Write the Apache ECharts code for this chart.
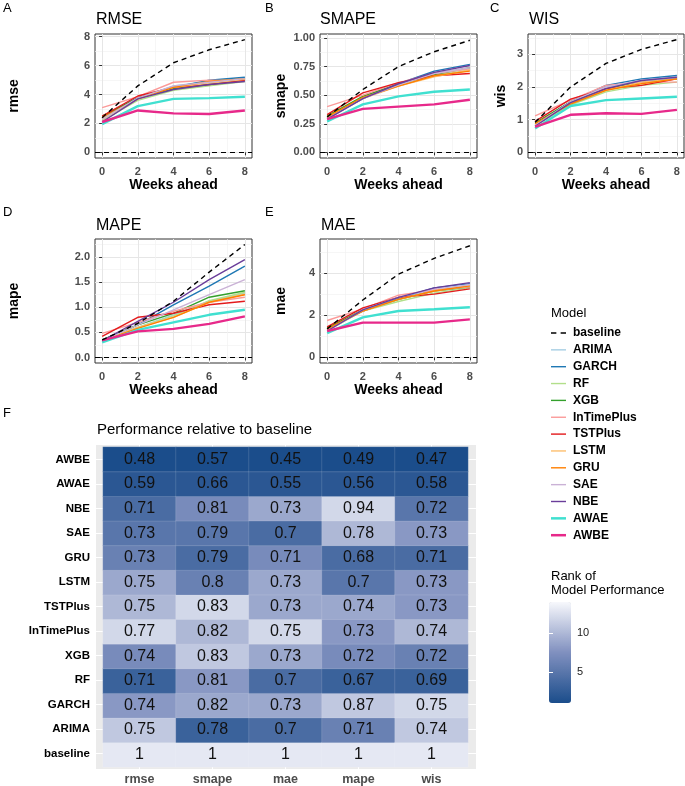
<!DOCTYPE html>
<html><head><meta charset="utf-8">
<script src="https://cdn.jsdelivr.net/npm/echarts@6/dist/echarts.min.js"></script>
<style>html,body{margin:0;padding:0;background:#fff}#c{width:685px;height:786px}</style>
</head><body><div id="c"></div>
<script>
// ---------------- DATA ----------------
const weeks = [0, 2, 4, 6, 8];
const models = ['baseline','ARIMA','GARCH','RF','XGB','InTimePlus','TSTPlus','LSTM','GRU','SAE','NBE','AWAE','AWBE'];
const modelColors = ['#000000','#A6CEE3','#1F78B4','#B2DF8A','#33A02C','#FB9A99','#E31A1C','#FDBF6F','#FF7F00','#CAB2D6','#6A3D9A','#40E0D0','#E7298A'];

// rows follow `models`; columns follow `weeks`
const rmseValues = [
  [2.40, 4.60, 6.20, 7.10, 7.80],
  [2.30, 3.75, 4.60, 4.90, 5.15],
  [2.40, 3.80, 4.50, 5.00, 5.20],
  [2.20, 3.60, 4.30, 4.60, 4.90],
  [2.50, 3.75, 4.40, 4.70, 5.00],
  [3.10, 3.85, 4.85, 5.00, 4.95],
  [2.50, 3.90, 4.50, 4.70, 5.00],
  [2.30, 3.70, 4.50, 4.80, 5.05],
  [2.40, 3.70, 4.50, 4.90, 5.10],
  [2.30, 3.75, 4.60, 4.85, 5.10],
  [2.10, 3.70, 4.35, 4.70, 4.90],
  [1.95, 3.20, 3.70, 3.75, 3.85],
  [2.10, 2.90, 2.70, 2.65, 2.90]
];
const smapeValues = [
  [0.31, 0.55, 0.75, 0.88, 0.98],
  [0.31, 0.48, 0.60, 0.69, 0.74],
  [0.30, 0.47, 0.60, 0.71, 0.77],
  [0.30, 0.49, 0.59, 0.67, 0.72],
  [0.32, 0.49, 0.60, 0.68, 0.74],
  [0.40, 0.50, 0.61, 0.69, 0.73],
  [0.33, 0.52, 0.61, 0.67, 0.69],
  [0.30, 0.47, 0.58, 0.66, 0.72],
  [0.31, 0.48, 0.58, 0.67, 0.71],
  [0.29, 0.47, 0.59, 0.69, 0.74],
  [0.29, 0.47, 0.60, 0.70, 0.76],
  [0.27, 0.42, 0.49, 0.53, 0.55],
  [0.29, 0.38, 0.40, 0.42, 0.46]
];
const wisValues = [
  [0.92, 2.00, 2.72, 3.15, 3.45],
  [0.85, 1.55, 2.00, 2.20, 2.30],
  [0.88, 1.55, 2.05, 2.25, 2.35],
  [0.82, 1.45, 1.85, 2.05, 2.15],
  [0.90, 1.55, 1.95, 2.15, 2.25],
  [1.12, 1.60, 2.05, 2.15, 2.15],
  [0.95, 1.63, 1.95, 2.05, 2.25],
  [0.85, 1.50, 1.90, 2.15, 2.25],
  [0.88, 1.48, 1.90, 2.10, 2.25],
  [0.82, 1.55, 2.00, 2.20, 2.30],
  [0.80, 1.52, 1.95, 2.20, 2.30],
  [0.73, 1.42, 1.60, 1.65, 1.70],
  [0.78, 1.15, 1.20, 1.18, 1.30]
];
const mapeValues = [
  [0.35, 0.68, 1.12, 1.70, 2.25],
  [0.35, 0.60, 0.85, 1.12, 1.28],
  [0.34, 0.65, 1.05, 1.42, 1.82],
  [0.33, 0.60, 0.83, 1.13, 1.30],
  [0.35, 0.65, 0.88, 1.20, 1.33],
  [0.48, 0.70, 0.92, 1.10, 1.20],
  [0.42, 0.80, 0.88, 1.05, 1.12],
  [0.34, 0.60, 0.80, 1.10, 1.26],
  [0.33, 0.58, 0.80, 1.10, 1.25],
  [0.33, 0.65, 0.95, 1.25, 1.55],
  [0.33, 0.72, 1.10, 1.55, 1.95],
  [0.30, 0.55, 0.70, 0.85, 0.95],
  [0.34, 0.52, 0.57, 0.67, 0.82]
];
const maeValues = [
  [1.35, 2.72, 3.95, 4.70, 5.30],
  [1.30, 2.20, 2.75, 3.20, 3.40],
  [1.35, 2.20, 2.80, 3.30, 3.50],
  [1.25, 2.20, 2.65, 3.05, 3.30],
  [1.40, 2.25, 2.75, 3.15, 3.35],
  [1.75, 2.30, 2.95, 3.20, 3.35],
  [1.45, 2.35, 2.85, 3.00, 3.25],
  [1.30, 2.20, 2.75, 3.15, 3.40],
  [1.35, 2.20, 2.75, 3.15, 3.40],
  [1.25, 2.25, 2.85, 3.25, 3.45],
  [1.25, 2.25, 2.85, 3.30, 3.55],
  [1.15, 1.90, 2.20, 2.28, 2.38],
  [1.25, 1.65, 1.65, 1.65, 1.80]
];

// tick values / labels
const weekTicks = [0, 2, 4, 6, 8];
const weekMinor = [1, 3, 5, 7];
const rmseTicks = [0, 2, 4, 6, 8];         const rmseTickLabels = ['0','2','4','6','8'];
const smapeTicks = [0, 0.25, 0.5, 0.75, 1];  const smapeTickLabels = ['0.00','0.25','0.50','0.75','1.00'];
const wisTicks = [0, 1, 2, 3];             const wisTickLabels = ['0','1','2','3'];
const mapeTicks = [0, 0.5, 1, 1.5, 2];     const mapeTickLabels = ['0.0','0.5','1.0','1.5','2.0'];
const maeTicks = [0, 2, 4];                const maeTickLabels = ['0','2','4'];
const rmseMinor = [1, 3, 5, 7];
const smapeMinor = [0.125, 0.375, 0.625, 0.875];
const wisMinor = [0.5, 1.5, 2.5, 3.5];
const mapeMinor = [0.25, 0.75, 1.25, 1.75, 2.25];
const maeMinor = [1, 3, 5];

// heatmap (rows bottom -> top)
const heatModels = ['baseline','ARIMA','GARCH','RF','XGB','InTimePlus','TSTPlus','LSTM','GRU','SAE','NBE','AWAE','AWBE'];
const heatMetrics = ['rmse','smape','mae','mape','wis'];
const relRmse  = [1, 0.75, 0.74, 0.71, 0.74, 0.77, 0.75, 0.75, 0.73, 0.73, 0.71, 0.59, 0.48];
const relSmape = [1, 0.78, 0.82, 0.81, 0.83, 0.82, 0.83, 0.8, 0.79, 0.79, 0.81, 0.66, 0.57];
const relMae   = [1, 0.7, 0.73, 0.7, 0.73, 0.75, 0.73, 0.73, 0.71, 0.7, 0.73, 0.55, 0.45];
const relMape  = [1, 0.71, 0.87, 0.67, 0.72, 0.73, 0.74, 0.7, 0.68, 0.78, 0.94, 0.56, 0.49];
const relWis   = [1, 0.74, 0.75, 0.69, 0.72, 0.74, 0.73, 0.73, 0.71, 0.73, 0.72, 0.58, 0.47];
const rankRmse  = [13, 11, 8, 3, 7, 12, 10, 9, 6, 5, 4, 2, 1];
const rankSmape = [13, 3, 9, 8, 11, 10, 12, 6, 4, 5, 7, 2, 1];
const rankMae   = [13, 4, 9, 4, 9, 12, 9, 9, 7, 4, 9, 2, 1];
const rankMape  = [13, 6, 11, 3, 7, 8, 9, 5, 4, 10, 12, 2, 1];
const rankWis   = [13, 11, 12, 3, 6, 10, 8, 8, 4, 8, 5, 2, 1];
const rankScaleTicks = [5, 10];

// ---------------- BUILD ----------------
const FONT = 'Liberation Sans, Arial, Helvetica, sans-serif';
const panels = [
  {letter:'A', title:'RMSE',  yName:'rmse',  vals:rmseValues,  ticks:rmseTicks,  labels:rmseTickLabels,  minor:rmseMinor,  min:-0.39, max:8.19, left:95,  top:34,  width:157, height:124, yGap:73.6},
  {letter:'B', title:'SMAPE', yName:'smape', vals:smapeValues, ticks:smapeTicks, labels:smapeTickLabels, minor:smapeMinor, min:-0.049, max:1.035, left:320, top:34, width:157, height:124, yGap:31.6},
  {letter:'C', title:'WIS',   yName:'wis',   vals:wisValues,   ticks:wisTicks,   labels:wisTickLabels,   minor:wisMinor,   min:-0.17, max:3.62, left:528, top:34,  width:156, height:124, yGap:19.6},
  {letter:'D', title:'MAPE',  yName:'mape',  vals:mapeValues,  ticks:mapeTicks,  labels:mapeTickLabels,  minor:mapeMinor,  min:-0.11, max:2.36, left:95,  top:239, width:157, height:124, yGap:73.6},
  {letter:'E', title:'MAE',   yName:'mae',   vals:maeValues,   ticks:maeTicks,   labels:maeTickLabels,   minor:maeMinor,   min:-0.27, max:5.62, left:320, top:239, width:157, height:124, yGap:31.6}
];
const letterPos = [[3,2],[265,2],[490,2],[3,206],[265,206]];
const titlePos = [[96,12],[320,12],[529,12],[96,218],[321,218]];

const grids = [], xAxes = [], yAxes = [], series = [], titles = [];
const majorLine = {show:true, lineStyle:{color:'#e6e6e6', width:1}};
const minorLine = {show:true, lineStyle:{color:'#f2f2f2', width:0.7}};
function labelFor(ticks, labels){
  return v => { for (let k=0;k<ticks.length;k++) if (Math.abs(ticks[k]-v)<1e-6) return labels[k]; return ''; };
}
const txt = (text, left, top, size, weight, extra) => Object.assign({text, left, top, padding:0, itemGap:0,
  textStyle:Object.assign({fontSize:size, fontWeight:weight||'normal', color:'#000', fontFamily:FONT}, extra||{})});

panels.forEach((p, i) => {
  grids.push({left:p.left, top:p.top, width:p.width, height:p.height, show:true, borderColor:'#333333', borderWidth:1, backgroundColor:'#ffffff'});
  xAxes.push({type:'value', gridIndex:i, min:-0.4, max:8.4, position:'bottom',
    name:'Weeks ahead', nameLocation:'middle', nameGap:20,
    nameTextStyle:{fontWeight:'bold', fontSize:14, color:'#000', fontFamily:FONT},
    axisLine:{show:false},
    axisTick:{show:true, length:3, customValues:weekTicks, lineStyle:{color:'#333'}},
    axisLabel:{customValues:weekTicks, margin:8, fontSize:11, fontWeight:'bold', color:'#4d4d4d', fontFamily:FONT},
    splitLine:majorLine});
  xAxes.push({type:'value', gridIndex:i, min:-0.4, max:8.4, position:'top',
    axisLine:{show:false}, axisTick:{show:false, customValues:weekMinor}, axisLabel:{show:false, customValues:weekMinor}, splitLine:minorLine});
  yAxes.push({type:'value', gridIndex:i, min:p.min, max:p.max, position:'left',
    name:p.yName, nameLocation:'middle', nameGap:p.yGap, nameRotate:90,
    nameTextStyle:{fontWeight:'bold', fontSize:14, color:'#000', fontFamily:FONT},
    axisLine:{show:false},
    axisTick:{show:true, length:3, customValues:p.ticks, lineStyle:{color:'#333'}},
    axisLabel:{customValues:p.ticks, formatter:labelFor(p.ticks, p.labels), margin:5, fontSize:11, fontWeight:'bold', color:'#4d4d4d', fontFamily:FONT},
    splitLine:majorLine});
  yAxes.push({type:'value', gridIndex:i, min:p.min, max:p.max, position:'right',
    axisLine:{show:false}, axisTick:{show:false, customValues:p.minor}, axisLabel:{show:false, customValues:p.minor}, splitLine:minorLine});
  titles.push(txt(p.letter, letterPos[i][0], letterPos[i][1], 13));
  titles.push(txt(p.title, titlePos[i][0], titlePos[i][1], 16));
  models.forEach((m, mi) => {
    const isBase = m === 'baseline';
    const thick = (m === 'AWAE' || m === 'AWBE');
    const s = {type:'line', name:m, xAxisIndex:2*i, yAxisIndex:2*i,
      data: weeks.map((w,k)=>[w, p.vals[mi][k]]),
      symbol:'none', silent:true, animation:false,
      z: isBase ? 5 : (thick ? 4 : 3),
      itemStyle:{color:modelColors[mi]},
      lineStyle:{color:modelColors[mi], width: thick ? 2.4 : 1.4, type: isBase ? [5,4] : 'solid'}};
    if (isBase) {
      s.markLine = {silent:true, symbol:'none', label:{show:false}, animation:false,
        lineStyle:{color:'#000', type:[5,4], width:1.2}, data:[{yAxis:0}]};
    }
    series.push(s);
  });
});

// heatmap: background grid (5), tiles grid (6), colorbar grid (7)
const BG = 5, HM = 6, CB = 7;
grids.push({left:96, top:445, width:380, height:325, show:true, backgroundColor:'#ebebeb', borderWidth:0});
grids.push({left:103, top:447, width:365, height:320, show:false});
grids.push({left:549, top:602, width:22, height:101, show:false});

const colIdx = heatMetrics.map((_, j) => j);
const rowIdx = heatModels.map((_, r) => r);
xAxes.push({type:'value', gridIndex:BG, min:-0.596, max:4.61, position:'bottom',
  axisLine:{show:false},
  axisTick:{show:true, length:3, customValues:colIdx, lineStyle:{color:'#333'}},
  axisLabel:{customValues:colIdx, formatter:v=>heatMetrics[Math.round(v)], margin:4, fontSize:12.5, fontWeight:'bold', color:'#4d4d4d', fontFamily:FONT},
  splitLine:{show:true, lineStyle:{color:'#ffffff', width:1}}});
yAxes.push({type:'value', gridIndex:BG, min:-0.622, max:12.59, position:'left',
  axisLine:{show:false},
  axisTick:{show:true, length:3, customValues:rowIdx, lineStyle:{color:'#333'}},
  axisLabel:{customValues:rowIdx, formatter:v=>heatModels[Math.round(v)], margin:6, fontSize:11.5, fontWeight:'bold', color:'#000', fontFamily:FONT},
  splitLine:{show:true, lineStyle:{color:'#ffffff', width:1}}});
xAxes.push({type:'category', gridIndex:HM, data:heatMetrics, show:false});
yAxes.push({type:'category', gridIndex:HM, data:heatModels, show:false});
xAxes.push({type:'value', gridIndex:CB, min:0, max:1, show:false});
const cbAxis = (pos, showLabel) => ({type:'value', gridIndex:CB, min:1, max:14, position:pos, z:10,
  axisLine:{show:false},
  axisTick:{show:true, inside:true, length:4, customValues:rankScaleTicks, lineStyle:{color:'#ffffff', width:1}},
  axisLabel:{show:showLabel, customValues:rankScaleTicks, margin:6, fontSize:11, color:'#1a1a1a', fontFamily:FONT},
  splitLine:{show:false}});
yAxes.push(cbAxis('right', true));
yAxes.push(cbAxis('left', false));

const relCols = [relRmse, relSmape, relMae, relMape, relWis];
const rankCols = [rankRmse, rankSmape, rankMae, rankMape, rankWis];
const heatData = [];
heatMetrics.forEach((_, j) => heatModels.forEach((_, r) => heatData.push([j, r, rankCols[j][r], relCols[j][r]])));
const heatSeriesIndex = series.length;
const hmX = xAxes.length - 2, hmY = yAxes.length - 3;
series.push({type:'heatmap', name:'rank', xAxisIndex:hmX, yAxisIndex:hmY, data:heatData, silent:true, animation:false,
  itemStyle:{borderColor:'rgba(255,255,255,0.25)', borderWidth:0.5},
  label:{show:true, formatter:p=>String(p.data[3]), fontSize:16, color:'#111', fontFamily:FONT}});

titles.push(txt('F', 3, 407, 13));
titles.push(txt('Performance relative to baseline', 97, 422, 15));
titles.push(txt('Model', 551, 307, 13));
titles.push(txt('Rank of\nModel Performance', 551, 569, 13, 'normal', {lineHeight:14}));

// legend icons (line keys)
const solidKey = 'path://M0,0H15V1.4H0Z';
const thickKey = 'path://M0,0H15V2.5H0Z';
const dashKey = 'path://M0,0H5V1.4H0Z M9,0H14V1.4H9Z';
const legendData = models.map(m => ({name:m,
  icon: m === 'baseline' ? dashKey : ((m === 'AWAE' || m === 'AWBE') ? thickKey : solidKey)}));

const option = {
  animation:false,
  textStyle:{fontFamily:FONT},
  title: titles,
  grid: grids,
  xAxis: xAxes,
  yAxis: yAxes,
  legend: {show:true, orient:'vertical', left:551, top:327, padding:0, data:legendData, itemWidth:15, itemHeight:12, itemGap:4.85,
    selectedMode:false, textStyle:{fontSize:12, fontWeight:'bold', color:'#000', fontFamily:FONT, padding:[0,0,0,2]}},
  visualMap: {type:'continuous', min:1, max:14, dimension:2, seriesIndex:heatSeriesIndex, calculable:false,
    orient:'vertical', left:549, top:602, itemWidth:22, itemHeight:101, padding:0, text:null, hoverLink:false,
    inRange:{color:['#1b4d8b','#8090bf','#f7f8fc']}},
  series: series
};
const chart = echarts.init(document.getElementById('c'), null, {renderer:'canvas'});
chart.setOption(option);
</script>
</body></html>
